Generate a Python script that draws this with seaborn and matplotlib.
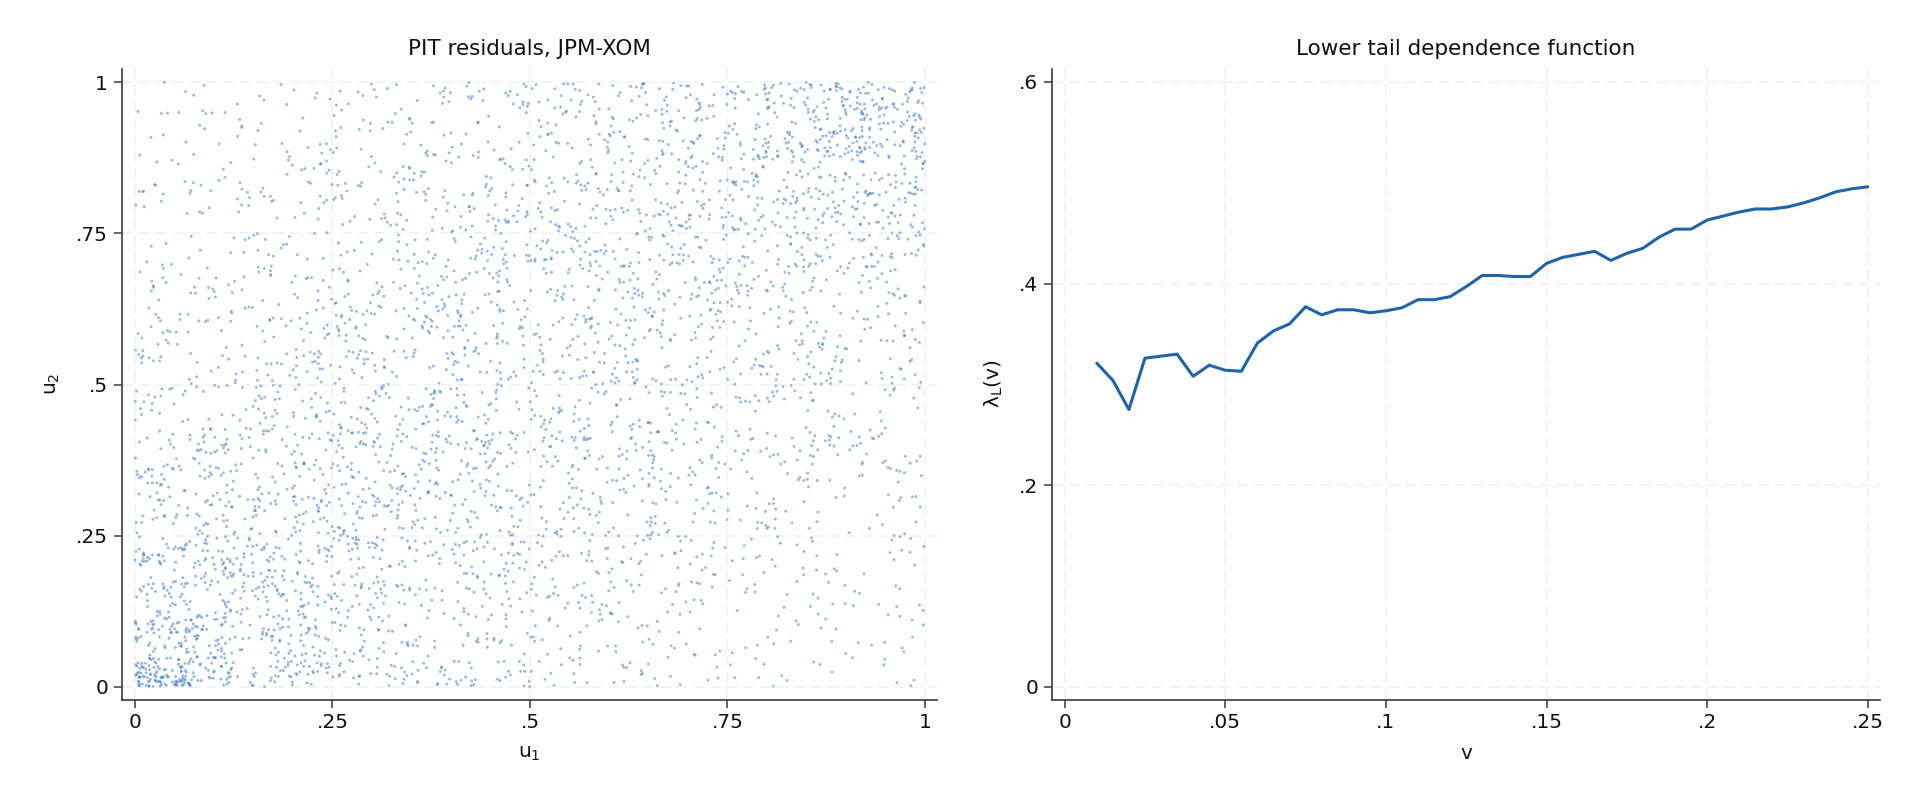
import numpy as np
import pandas as pd
import matplotlib
matplotlib.use("Agg")
import matplotlib.pyplot as plt
import seaborn as sns

# ---------------- data ----------------
# Lower tail dependence function
v_values = [0.010, 0.015, 0.020, 0.025, 0.030, 0.035, 0.040, 0.045, 0.050, 0.055,
            0.060, 0.065, 0.070, 0.075, 0.080, 0.085, 0.090, 0.095, 0.100, 0.105,
            0.110, 0.115, 0.120, 0.125, 0.130, 0.135, 0.140, 0.145, 0.150, 0.155,
            0.160, 0.165, 0.170, 0.175, 0.180, 0.185, 0.190, 0.195, 0.200, 0.205,
            0.210, 0.215, 0.220, 0.225, 0.230, 0.235, 0.240, 0.245, 0.250]
lambda_values = [0.321, 0.304, 0.275, 0.326, 0.328, 0.330, 0.308, 0.319, 0.314, 0.313,
                 0.341, 0.353, 0.360, 0.377, 0.369, 0.374, 0.374, 0.371, 0.373, 0.376,
                 0.384, 0.384, 0.387, 0.397, 0.408, 0.408, 0.407, 0.407, 0.420, 0.426,
                 0.429, 0.432, 0.423, 0.430, 0.435, 0.446, 0.454, 0.454, 0.463, 0.467,
                 0.471, 0.474, 0.474, 0.476, 0.480, 0.485, 0.491, 0.494, 0.496]

# PIT residual scatter: relative point density on an
# 8x8 grid of cells (rows: u2 from bottom to top, columns: u1 from left to right)
cell_edges = [0.0, 0.125, 0.25, 0.375, 0.5, 0.625, 0.75, 0.875, 1.0]
density_grid = [
    [3.0, 1.8, 1.2, 1.0, 0.7, 0.5, 0.35, 0.3],
    [2.0, 1.8, 1.4, 1.1, 0.9, 0.7, 0.5, 0.4],
    [1.4, 1.4, 1.5, 1.2, 1.0, 0.9, 0.6, 0.5],
    [1.0, 1.1, 1.3, 1.3, 1.1, 1.0, 0.8, 0.6],
    [0.7, 0.9, 1.1, 1.2, 1.2, 1.1, 1.0, 0.8],
    [0.5, 0.7, 0.9, 1.1, 1.2, 1.3, 1.2, 1.0],
    [0.4, 0.6, 0.8, 1.0, 1.1, 1.3, 1.5, 1.6],
    [0.3, 0.4, 0.6, 0.8, 1.0, 1.3, 1.8, 2.8],
]
# extra concentration seen in the extreme lower-left corner and a small
# cluster near u1 = 0.06 at the bottom edge
corner_points = 45
cluster_points = 25
n_points = 4400

x_ticks = [0, 0.25, 0.5, 0.75, 1]
x_tick_labels = ["0", ".25", ".5", ".75", "1"]
y_ticks = [0, 0.25, 0.5, 0.75, 1]
y_tick_labels = ["0", ".25", ".5", ".75", "1"]
v_ticks = [0, 0.05, 0.10, 0.15, 0.20, 0.25]
v_tick_labels = ["0", ".05", ".1", ".15", ".2", ".25"]
lam_ticks = [0, 0.2, 0.4, 0.6]
lam_tick_labels = ["0", ".2", ".4", ".6"]

# ------------- build scatter points from the density grid -------------
# (positions inside each cell are jittered; the per-cell counts follow the grid)
rng = np.random.default_rng(7)
dens = np.array(density_grid)
counts = np.round(dens / dens.sum() * n_points).astype(int)
u1_list, u2_list = [], []
for r in range(8):
    for c in range(8):
        k = counts[r, c]
        u1_list.append(rng.uniform(cell_edges[c], cell_edges[c + 1], k))
        u2_list.append(rng.uniform(cell_edges[r], cell_edges[r + 1], k))
u1_list.append(rng.triangular(0.0, 0.0, 0.05, corner_points))
u2_list.append(rng.triangular(0.0, 0.0, 0.06, corner_points))
u1_list.append(rng.uniform(0.05, 0.07, cluster_points))
u2_list.append(rng.triangular(0.0, 0.0, 0.06, cluster_points))
pit = pd.DataFrame({"u1": np.concatenate(u1_list), "u2": np.concatenate(u2_list)})
tail = pd.DataFrame({"v": v_values, "lam": lambda_values})

# ---------------- style ----------------
sns.set_theme(style="white")
plt.rcParams["font.family"] = ["DejaVu Sans"]
plt.rcParams["mathtext.default"] = "regular"

fig = plt.figure(figsize=(19.2, 8.06), dpi=100)
ax1 = fig.add_axes([0.0635, 0.1321, 0.4245, 0.7823])
ax2 = fig.add_axes([0.5479, 0.1321, 0.4313, 0.7823])

dot_color = "#3b77ba"
line_color = "#1f63a8"
grid_color = "#f0f0f0"
spine_color = "#3a3a3a"

sns.scatterplot(data=pit, x="u1", y="u2", ax=ax1, s=4.5, color=dot_color,
                alpha=0.5, linewidth=0, edgecolor="none")
sns.lineplot(data=tail, x="v", y="lam", ax=ax2, color=line_color, linewidth=2.2)

def style_axes(ax, xt, xtl, yt, ytl, xlim, ylim, title, xlabel, ylabel):
    ax.set_xlim(*xlim)
    ax.set_ylim(*ylim)
    ax.set_xticks(xt)
    ax.set_xticklabels(xtl)
    ax.set_yticks(yt)
    ax.set_yticklabels(ytl)
    for s in ["top", "right"]:
        ax.spines[s].set_visible(False)
    for s in ["left", "bottom"]:
        ax.spines[s].set_color(spine_color)
        ax.spines[s].set_linewidth(1.2)
    ax.tick_params(axis="both", which="major", direction="out", length=6,
                   width=1.1, color=spine_color, labelsize=14.5,
                   labelcolor="#111111", pad=4, bottom=True, left=True)
    ax.grid(True, color=grid_color, linestyle=(0, (7, 4)), linewidth=1.1)
    ax.set_axisbelow(True)
    ax.set_title(title, fontsize=15.5, color="#111111", pad=10)
    ax.set_xlabel(xlabel, fontsize=14.5, color="#111111", labelpad=8)
    ax.set_ylabel(ylabel, fontsize=14.5, color="#111111", labelpad=10)

style_axes(ax1, x_ticks, x_tick_labels, y_ticks, y_tick_labels,
           (-0.0165, 1.0152), (-0.0212, 1.022),
           "PIT residuals, JPM-XOM", "u$_1$", "u$_2$")
style_axes(ax2, v_ticks, v_tick_labels, lam_ticks, lam_tick_labels,
           (-0.00395, 0.25383), (-0.0127, 0.6129),
           "Lower tail dependence function", "v", r"$\lambda_L$(v)")

fig.savefig("out.png", dpi=100, facecolor="white")
